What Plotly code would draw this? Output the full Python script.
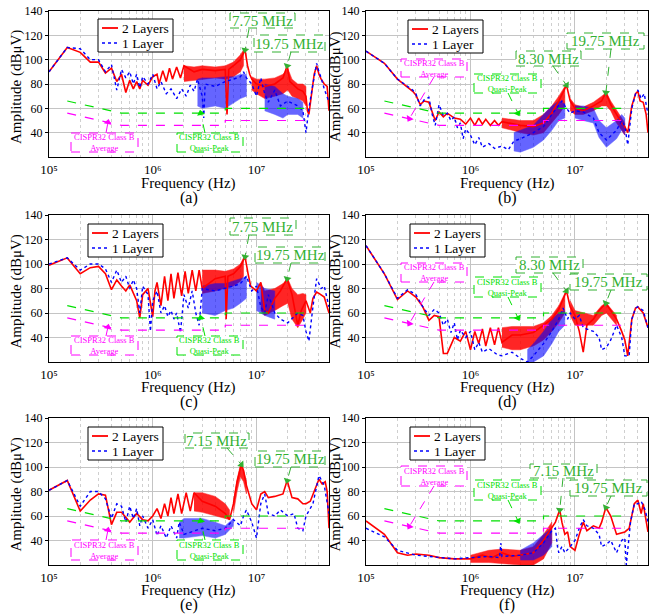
import math
import plotly.graph_objects as go

# ---------------------------------------------------------------------------
# Conducted-emission spectra (frequency in MHz, amplitude in dBuV)
# Main traces: (f, dB).  Dense-ripple envelopes: (f, low, high), None splits.
# ---------------------------------------------------------------------------
A_2L = [(0.1,90),(0.15,110),(0.2,106),(0.25,98),(0.3,98),(0.35,89),(0.4,93),(0.45,82),(0.5,88),(0.55,73),
        (0.6,83),(0.65,76),(0.7,82),(0.75,76),(0.8,83),(0.9,79),(1.0,86),(1.1,88),(1.15,80),(1.25,91),
        (1.35,82),(1.45,93),(1.55,84),(1.7,94),(1.85,85),(2.0,95),(2.5,90),(3.0,92),(4.0,91),(5.0,92),
        (5.2,55),(5.4,92),(6.0,95),(7.0,100),(7.75,108),(8.2,95),(8.6,88),(9.0,84),(10,80),(12,78),
        (15,80),(18,85),(19.75,95),(21,82),(25,76),(28,74),(30,70),(31,58),(32,55),(34,70),(36,88),
        (38,95),(40,88),(42,84),(45,80),(48,78),(50,58)]
A_BAND_2L = [(2.0,82,95),(2.5,83,94),(3,84,95),(4,85,94),(5,84,95),(6,86,98),(7,90,104),(7.5,95,108), None,
             (9,75,86),(10,72,84),(12,68,84),(15,70,85),(18,72,88),(20,75,93),(22,70,84),(25,68,80),(28,66,80),(30,62,78)]
A_1L = [(0.1,90),(0.15,110),(0.2,109),(0.25,100),(0.3,100),(0.35,90),(0.4,96),(0.45,75),(0.5,92),(0.55,85),
        (0.6,90),(0.65,80),(0.7,88),(0.75,77),(0.8,86),(0.9,80),(1.0,88),(1.1,76),(1.2,82),(1.35,72),
        (1.5,76),(1.7,68),(1.9,76),(2.1,70),(2.3,79),(2.5,74),(2.7,84),(3.0,70),(3.1,52),(3.2,80),
        (4,78),(5,82),(6,84),(7,86),(7.5,90),(8,85),(9,80),(10,70),(11,85),(12,72),(13,65),(15,75),
        (17,62),(20,66),(25,62),(28,58),(30,40),(32,60),(35,80),(38,97),(40,90),(42,85),(45,76),(50,65)]
A_BAND_1L = [(2.7,62,84),(3,60,85),(4,62,85),(5,60,86),(6,64,86),(7,68,88),(8,70,88), None,
             (12,58,80),(15,55,78),(18,52,72),(20,55,70),(25,55,68),(28,52,65)]

B_2L = [(0.1,107),(0.15,97),(0.2,84),(0.25,77),(0.28,74),(0.3,71),(0.33,63),(0.36,66),(0.4,65),(0.43,57),
        (0.46,50),(0.5,57),(0.55,53),(0.6,56),(0.7,52),(0.8,51),(0.9,47),(1.0,52),(1.1,46),(1.2,52),
        (1.3,47),(1.4,51),(1.55,46),(1.7,50),(1.85,46),(2.0,49),(2.5,47),(3,46),(4,45),(5,48),(6,56),
        (7,66),(8.3,79),(9,66),(10,60),(12,58),(15,62),(18,66),(19.75,73),(22,63),(25,55),(28,48),
        (30,45),(32,40),(35,62),(38,72),(40,74),(42,66),(45,65),(48,55),(50,40)]
B_BAND_2L = [(2,44,52),(2.5,42,51),(3,40,50),(4,38,50),(5,40,55),(6,48,62),(7,55,70),(8,62,78), None,
             (9,58,68),(10,55,63),(12,55,61),(15,58,65),(18,62,70),(20,62,73),(22,58,66),(25,48,58),(28,42,52),(30,38,48)]
B_1L = [(0.1,107),(0.15,97),(0.2,84),(0.25,78),(0.28,75),(0.3,72),(0.33,62),(0.36,67),(0.4,69),(0.43,55),
        (0.46,46),(0.5,63),(0.55,54),(0.6,56),(0.65,50),(0.7,53),(0.75,44),(0.8,48),(0.85,35),(0.9,43),
        (1.0,38),(1.1,30),(1.2,36),(1.3,28),(1.5,31),(1.7,27),(2.0,29),(2.3,26),(2.6,33),(3,35),(4,40),
        (5,45),(6,55),(7.5,66),(8,62),(9,56),(10,58),(12,57),(15,52),(17,40),(20,34),(25,42),(28,50),
        (30,45),(32,30),(35,60),(38,72),(40,75),(43,68),(46,72),(50,55)]
B_BAND_1L = [(2.6,25,40),(3,24,42),(4,28,46),(5,34,55),(6,42,62),(7,50,66),(8,52,64), None,
             (10,52,62),(12,50,62),(15,48,60),(17,36,50),(20,28,44),(25,35,50),(28,42,55),(30,38,52)]

C_2L = [(0.1,99),(0.15,105),(0.2,92),(0.25,97),(0.3,98),(0.35,92),(0.4,79),(0.45,87),(0.5,82),(0.55,78),
        (0.6,83),(0.7,70),(0.75,56),(0.8,75),(0.9,80),(1.0,57),(1.05,78),(1.1,85),(1.2,66),(1.3,90),
        (1.4,70),(1.5,92),(1.6,72),(1.75,93),(1.9,74),(2.05,94),(2.2,76),(2.4,95),(2.6,78),(2.8,95),
        (3.0,80),(4,88),(5,90),(5.1,55),(5.3,90),(6,92),(7,98),(7.75,106),(8.3,92),(8.8,82),(10,78),
        (11,85),(12,62),(13,60),(15,72),(17,78),(19.75,88),(22,75),(25,50),(27,62),(30,70),(33,60),
        (35,72),(38,77),(40,76),(45,73),(50,60)]
C_BAND_2L = [(3,76,95),(4,78,95),(5,80,94),(6,82,96),(7,86,100),(7.5,90,105), None,
             (11,62,85),(12,58,78),(15,62,80),(18,66,84),(20,68,88),(22,55,80),(25,48,75),(28,55,76),(30,60,75)]
C_1L = [(0.1,100),(0.15,105),(0.2,95),(0.25,100),(0.3,100),(0.35,96),(0.4,85),(0.45,95),(0.5,85),(0.55,90),
        (0.6,80),(0.65,87),(0.7,80),(0.75,60),(0.8,82),(0.9,75),(0.95,45),(1.0,70),(1.1,78),(1.2,60),
        (1.3,66),(1.4,57),(1.5,62),(1.6,55),(1.7,60),(1.85,44),(2.0,75),(2.2,64),(2.4,78),(2.6,60),
        (2.8,50),(3,80),(4,78),(5,80),(6,82),(7,84),(8,90),(9,78),(10,82),(11,65),(12,60),(13,75),
        (15,60),(17,55),(20,52),(25,60),(28,58),(30,45),(32,37),(35,65),(38,88),(42,80),(45,82),(50,65)]
C_BAND_1L = [(3,60,82),(4,58,84),(5,62,84),(6,64,86),(7,68,88),(8,72,90), None,
             (10,62,85),(12,58,80),(15,55,78)]

D_2L = [(0.1,115),(0.15,92),(0.2,71),(0.25,78),(0.3,73),(0.35,65),(0.4,54),(0.45,58),(0.5,57),(0.55,27),
        (0.6,27),(0.7,40),(0.8,37),(0.9,45),(1.0,30),(1.1,45),(1.2,35),(1.3,47),(1.4,33),(1.55,48),
        (1.7,34),(1.85,48),(2.0,36),(2.5,42),(3,42),(4,44),(5,50),(6,55),(7,63),(8.3,78),(9,65),
        (10,58),(11,45),(12,28),(13,50),(15,55),(17,62),(19.75,68),(22,62),(25,55),(28,45),(30,38),
        (32,25),(35,55),(38,64),(40,65),(45,60),(50,48)]
D_BAND_2L = [(2,32,48),(2.5,30,49),(3,30,49),(4,33,49),(5,38,52),(6,45,58),(7,52,66),(8,60,76), None,
             (9,58,70),(10,50,62),(15,50,58),(18,58,66),(20,60,68),(22,56,64),(25,50,58)]
D_1L = [(0.1,115),(0.15,92),(0.2,72),(0.25,79),(0.3,75),(0.35,65),(0.4,58),(0.45,63),(0.5,60),(0.55,50),
        (0.6,55),(0.65,44),(0.7,52),(0.75,38),(0.8,46),(0.9,40),(1.0,45),(1.1,30),(1.2,36),(1.3,28),
        (1.5,31),(1.8,26),(2.0,25),(2.5,28),(3,23),(3.5,20),(4,25),(5,35),(6,45),(7,55),(7.7,64),
        (8.5,55),(9,60),(10,55),(11,58),(12,48),(15,45),(17,40),(18,30),(20,32),(22,38),(25,50),
        (28,40),(30,25),(33,25),(35,55),(38,64),(40,65),(45,62),(50,48)]
D_BAND_1L = [(3.5,20,30),(4,20,35),(5,25,45),(6,35,55),(7,45,60),(8,50,62)]

E_2L = [(0.1,81),(0.15,89),(0.2,64),(0.25,73),(0.3,78),(0.35,77),(0.4,53),(0.45,63),(0.5,63),(0.6,55),
        (0.7,62),(0.8,57),(0.9,56),(1.0,60),(1.1,66),(1.2,58),(1.3,70),(1.4,60),(1.5,75),(1.6,62),
        (1.75,78),(1.9,62),(2.1,79),(2.3,64),(2.5,79),(3,72),(4,68),(5,62),(5.5,57),(6,70),(6.5,88),
        (7.15,102),(7.5,97),(8,85),(9,70),(10,65),(11,78),(12,80),(13,75),(15,76),(18,78),(19.75,89),
        (22,75),(25,74),(28,70),(30,70),(33,72),(37,82),(40,90),(43,86),(46,88),(48,80),(50,50)]
E_BAND_2L = [(2.5,64,79),(3,63,79),(4,60,76),(5,58,70),(5.5,57,65), None,
             (6,62,72),(6.5,80,90),(7,92,102),(7.5,88,98),(8,78,88)]
E_1L = [(0.1,81),(0.15,89),(0.2,68),(0.25,80),(0.3,80),(0.35,74),(0.4,58),(0.45,70),(0.5,68),(0.55,55),
        (0.6,68),(0.65,58),(0.7,66),(0.75,52),(0.8,60),(0.9,50),(1.0,57),(1.1,44),(1.2,52),(1.35,42),
        (1.5,52),(1.7,42),(1.8,55),(2,45),(3,50),(4,48),(5,50),(6,57),(7,52),(7.5,60),(8,65),(9,55),
        (10,42),(11,70),(12,78),(13,62),(15,60),(17,65),(20,60),(23,62),(25,50),(28,48),(30,60),
        (35,70),(40,93),(45,85),(50,62)]
E_BAND_1L = [(1.8,42,55),(2,42,58),(3,44,58),(4,42,55),(5,45,52),(6,52,58)]

F_2L = [(0.1,56),(0.15,45),(0.2,30),(0.25,28),(0.3,29),(0.4,28),(0.5,26),(0.7,25),(1.0,25),(1.3,28),
        (1.6,26),(2,30),(2.5,27),(3,28),(4,30),(5,40),(6,50),(6.5,55),(7.15,65),(7.5,55),(8,45),
        (8.5,47),(9,35),(10,32),(11,45),(12,55),(13,48),(15,52),(17,50),(18,55),(19.75,67),(22,60),
        (25,45),(28,46),(30,47),(33,50),(37,70),(40,73),(43,62),(45,70),(50,47)]
F_BAND_2L = [(1,22,28),(1.5,22,32),(2,21,33),(3,20,32),(4,20,35),(5,25,45),(6,38,55)]
F_1L = [(0.1,50),(0.15,43),(0.2,32),(0.25,30),(0.3,28),(0.4,27),(0.5,26),(0.7,25),(1.0,26),(1.5,27),
        (1.9,26),(1.95,38),(2.0,27),(3,28),(4,30),(5,38),(6,48),(6.5,50),(6.8,35),(7,30),(7.5,35),
        (8,30),(9,35),(10,40),(11,50),(12,57),(13,52),(15,50),(17,45),(18,35),(20,37),(22,40),
        (25,30),(28,40),(30,42),(31,20),(34,55),(37,70),(40,70),(43,72),(47,65),(50,55)]
F_BAND_1L = [(3,24,32),(4,24,38),(5,28,45),(6,35,50)]

# CISPR 32 Class B conducted limits (MHz, dBuV)
LIMIT_F = [0.15, 0.5, 5, 5, 30]
LIMIT_QP = [66, 56, 56, 60, 60]
LIMIT_AVG = [56, 46, 46, 50, 50]

SERIES_NAMES = ["2 Layers", "1 Layer"]
X_TICKS = [1e5, 1e6, 1e7]
X_TICK_TEXT = ["10⁵", "10⁶", "10⁷"]
Y_TICKS = [40, 60, 80, 100, 120, 140]

# Frequency call-outs: (label, frequency MHz, dBuV, box px (x0,y0,x1,y1), arrow tail px)
CALLOUTS = [
    [("7.75 MHz", 7.75, 108, (230, 13, 295, 28), (249, 29)),
     ("19.75 MHz", 19.75, 95, (254, 35, 325, 52), (291, 52))],
    [("8.30 MHz", 8.30, 79, (516, 51, 581, 66), (553, 66)),
     ("19.75 MHz", 19.75, 73, (567, 33, 644, 49), (611, 49))],
    [("7.75 MHz", 7.75, 106, (230, 218, 296, 235), (249, 235)),
     ("19.75 MHz", 19.75, 88, (255, 247, 325, 263), (291, 263))],
    [("8.30 MHz", 8.30, 78, (516, 257, 583, 273), (553, 273)),
     ("19.75 MHz", 19.75, 68, (570, 274, 647, 290), (611, 290))],
    [("7.15 MHz", 7.15, 102, (185, 433, 249, 448), (227, 448)),
     ("19.75 MHz", 19.75, 89, (255, 451, 325, 467), (291, 467))],
    [("7.15 MHz", 7.15, 65, (530, 464, 597, 478), (563, 478)),
     ("19.75 MHz", 19.75, 67, (570, 480, 647, 496), (611, 496))],
]
# Limit call-outs: (kind, frequency MHz, dBuV on the limit line, box px, arrow tail px)
LIMIT_CALLOUTS = [
    [("Average", 0.37, 48.5, (71, 133, 138, 152), (106, 133)),
     ("Quasi-Peak", 2.9, 56, (177, 133, 243, 152), (205, 133))],
    [("Average", 0.26, 51.5, (401, 59, 467, 77), (434, 77)),
     ("Quasi-Peak", 2.85, 56, (474, 74, 541, 93), (508, 93))],
    [("Average", 0.37, 48.5, (71, 336, 138, 355), (106, 336)),
     ("Quasi-Peak", 2.9, 56, (177, 336, 243, 355), (205, 336))],
    [("Average", 0.26, 51.5, (401, 263, 467, 282), (434, 282)),
     ("Quasi-Peak", 2.85, 56, (474, 277, 541, 297), (508, 297))],
    [("Average", 0.37, 48.5, (71, 540, 138, 560), (106, 540)),
     ("Quasi-Peak", 2.9, 56, (177, 540, 243, 560), (205, 540))],
    [("Average", 0.26, 51.5, (401, 466, 467, 486), (434, 486)),
     ("Quasi-Peak", 2.85, 56, (474, 480, 541, 500), (508, 500))],
]
LEGEND_POS = [(98, 19), (408, 20), (88, 224), (410, 224), (88, 427), (410, 427)]
CAPTIONS = ["(a)", "(b)", "(c)", "(d)", "(e)", "(f)"]
CAPTION_Y = [198, 198, 402, 402, 605, 605]
XTITLE_Y = [183, 183, 387, 387, 590, 590]
YTITLE_X = [16, 335, 16, 335, 16, 335]
Y_TITLES = ["Amplitude (dBμV)", "Amplitude(dBμV)", "Amplitude (dBμV)",
            "Amplitude (dBμV)", "Amplitude (dBμV)", "Amplitude (dBμV)"]

PANELS = [(A_2L, A_BAND_2L, A_1L, A_BAND_1L), (B_2L, B_BAND_2L, B_1L, B_BAND_1L),
          (C_2L, C_BAND_2L, C_1L, C_BAND_1L), (D_2L, D_BAND_2L, D_1L, D_BAND_1L),
          (E_2L, E_BAND_2L, E_1L, E_BAND_1L), (F_2L, F_BAND_2L, F_1L, F_BAND_1L)]

# ---------------------------------------------------------------------------
W, H = 656, 616
FONT = "Liberation Serif, DejaVu Serif, serif"
XMIN, XMAX = 5.0, math.log10(5e7)
YMIN, YMAX = 20, 140
COLS = [(49, 329), (366, 648)]
ROWS = [(11, 157), (215, 362), (418, 565)]
RED, BLUE = "#ff0000", "#0000ff"
LINE_2L = dict(color=RED, width=1.6)
LINE_1L = dict(color=BLUE, width=1.4, dash="dot")
LIM_GREEN, LIM_MAG = "#00e000", "#ff00ff"
TXT_GREEN = "#33b033"
MINOR = [m * 10 ** e for e in (5, 6) for m in range(2, 10)] + [2e7, 3e7, 4e7, 5e7]


def data_px(i, f_mhz, db):
    (x0, x1), (y0, y1) = COLS[i % 2], ROWS[i // 2]
    lx = math.log10(f_mhz * 1e6)
    return (x0 + (lx - XMIN) / (XMAX - XMIN) * (x1 - x0),
            y1 - (db - YMIN) / (YMAX - YMIN) * (y1 - y0))


def segments(band):
    segs, cur = [], []
    for item in band:
        if item is None:
            segs.append(cur)
            cur = []
        else:
            cur.append(item)
    if cur:
        segs.append(cur)
    return segs


fig = go.Figure()
shapes, annotations = [], []
layout = {}

for i, (s2, b2, s1, b1) in enumerate(PANELS):
    n = i + 1
    sfx = "" if n == 1 else str(n)
    xa, ya = "x" + sfx, "y" + sfx
    xd, yd = xa + " domain", ya + " domain"
    (cx0, cx1), (ry0, ry1) = COLS[i % 2], ROWS[i // 2]

    def dom(x, y):
        # pixel position -> fraction of this panel's plotting area
        return (x - cx0) / (cx1 - cx0), (ry1 - y) / (ry1 - ry0)

    def label(x, y, text, size, color="black", angle=0, anchor="center"):
        p = dom(x, y)
        annotations.append(dict(xref=xd, yref=yd, x=p[0], y=p[1], text=text, showarrow=False,
                                xanchor=anchor, yanchor="middle", textangle=angle,
                                font=dict(family=FONT, size=size, color=color)))

    def seg_shape(kind, x0, y0, x1, y1, line, fill=None):
        a, b = dom(x0, y0), dom(x1, y1)
        s = dict(type=kind, xref=xd, yref=yd, x0=a[0], y0=a[1], x1=b[0], y1=b[1],
                 line=line, layer="above")
        if fill:
            s["fillcolor"] = fill
        shapes.append(s)

    for band, col, op in ((b2, RED, 0.85), (b1, BLUE, 0.6)):
        for seg in segments(band):
            f = [p[0] * 1e6 for p in seg]
            fig.add_trace(go.Scatter(
                x=f + f[::-1], y=[p[2] for p in seg] + [p[1] for p in seg][::-1],
                fill="toself", fillcolor=col, opacity=op, mode="lines",
                line=dict(color=col, width=0.5), hoverinfo="skip",
                showlegend=False, xaxis=xa, yaxis=ya))

    fig.add_trace(go.Scatter(x=[p[0] * 1e6 for p in s2], y=[p[1] for p in s2], mode="lines",
                             name=SERIES_NAMES[0], line=LINE_2L, showlegend=False,
                             xaxis=xa, yaxis=ya))
    fig.add_trace(go.Scatter(x=[p[0] * 1e6 for p in s1], y=[p[1] for p in s1], mode="lines",
                             name=SERIES_NAMES[1], line=LINE_1L, showlegend=False,
                             xaxis=xa, yaxis=ya))
    fig.add_trace(go.Scatter(x=[f * 1e6 for f in LIMIT_F], y=LIMIT_QP, mode="lines",
                             line=dict(color=LIM_GREEN, width=1.2, dash="dash"),
                             showlegend=False, xaxis=xa, yaxis=ya))
    fig.add_trace(go.Scatter(x=[f * 1e6 for f in LIMIT_F], y=LIMIT_AVG, mode="lines",
                             line=dict(color=LIM_MAG, width=1.2, dash="dash"),
                             showlegend=False, xaxis=xa, yaxis=ya))

    layout["xaxis" + sfx] = dict(
        type="log", range=[XMIN, XMAX], domain=[cx0 / W, cx1 / W], anchor=ya,
        tickmode="array", tickvals=X_TICKS, ticktext=X_TICK_TEXT,
        tickfont=dict(family=FONT, size=13, color="black"), ticks="",
        showgrid=True, gridcolor="#c4c4c4", gridwidth=1,
        minor=dict(tickvals=MINOR, showgrid=True, gridcolor="#cfcfcf", griddash="dot", ticks=""),
        showline=True, linecolor="black", linewidth=1, mirror=True, zeroline=False,
        automargin=False)
    layout["yaxis" + sfx] = dict(
        range=[YMIN, YMAX], domain=[1 - ry1 / H, 1 - ry0 / H], anchor=xa,
        tickvals=Y_TICKS, tickfont=dict(family=FONT, size=12, color="black"),
        ticks="outside", ticklen=3, tickcolor="black",
        showgrid=True, gridcolor="#c4c4c4", gridwidth=1, automargin=False,
        showline=True, linecolor="black", linewidth=1, mirror=True, zeroline=False)

    # axis titles and panel caption
    label((cx0 + cx1) / 2, XTITLE_Y[i], "Frequency (Hz)", 15)
    label(YTITLE_X[i], (ry0 + ry1) / 2 + 3, Y_TITLES[i], 15, angle=-90)
    label((cx0 + cx1) / 2, CAPTION_Y[i], CAPTIONS[i], 16)

    # boxed legend
    lx, ly = LEGEND_POS[i]
    seg_shape("rect", lx, ly, lx + 75, ly + 33, dict(color="black", width=1), "white")
    for k, style in enumerate((LINE_2L, LINE_1L)):
        yy = ly + 9 + 15 * k
        seg_shape("line", lx + 4, yy, lx + 20, yy, dict(color=style["color"], width=style["width"] + 0.2,
                                                         dash=style.get("dash", "solid")))
        label(lx + 22, yy, SERIES_NAMES[k], 13.5, anchor="left")

    heads_x, heads_y, heads_ang, heads_col = [], [], [], []

    def callout(text, f_mhz, db, box, tail, color, size):
        bx0, by0, bx1, by1 = box
        seg_shape("rect", bx0, by1, bx1, by0, dict(color=color, width=1, dash="dash"), "white")
        label((bx0 + bx1) / 2, (by0 + by1) / 2, text, size, color)
        hx, hy = data_px(i, f_mhz, db)
        tx, ty = tail
        seg_shape("line", tx, ty, hx, hy, dict(color=color, width=1, dash="dash"))
        heads_x.append(f_mhz * 1e6)
        heads_y.append(db)
        heads_ang.append(math.degrees(math.atan2(hx - tx, -(hy - ty))))
        heads_col.append(color)

    for text, f_mhz, db, box, tail in CALLOUTS[i]:
        callout(text, f_mhz, db, box, tail, TXT_GREEN, 15)
    for kind, f_mhz, db, box, tail in LIMIT_CALLOUTS[i]:
        col = LIM_MAG if kind == "Average" else LIM_GREEN
        callout("CISPR32 Class B<br>" + kind, f_mhz, db, box, tail, col, 8.5)

    # arrow heads at the pointed-to spectrum / limit positions
    fig.add_trace(go.Scatter(x=heads_x, y=heads_y, mode="markers", hoverinfo="skip",
                             marker=dict(symbol="triangle-up", size=7, angle=heads_ang,
                                         color=heads_col, line=dict(width=0)),
                             showlegend=False, xaxis=xa, yaxis=ya))

fig.update_layout(
    width=W, height=H, margin=dict(l=0, r=0, t=0, b=0, autoexpand=False),
    paper_bgcolor="white", plot_bgcolor="white", showlegend=False,
    font=dict(family=FONT, color="black"),
    shapes=shapes, annotations=annotations, **layout)

fig.write_html("out.html")
